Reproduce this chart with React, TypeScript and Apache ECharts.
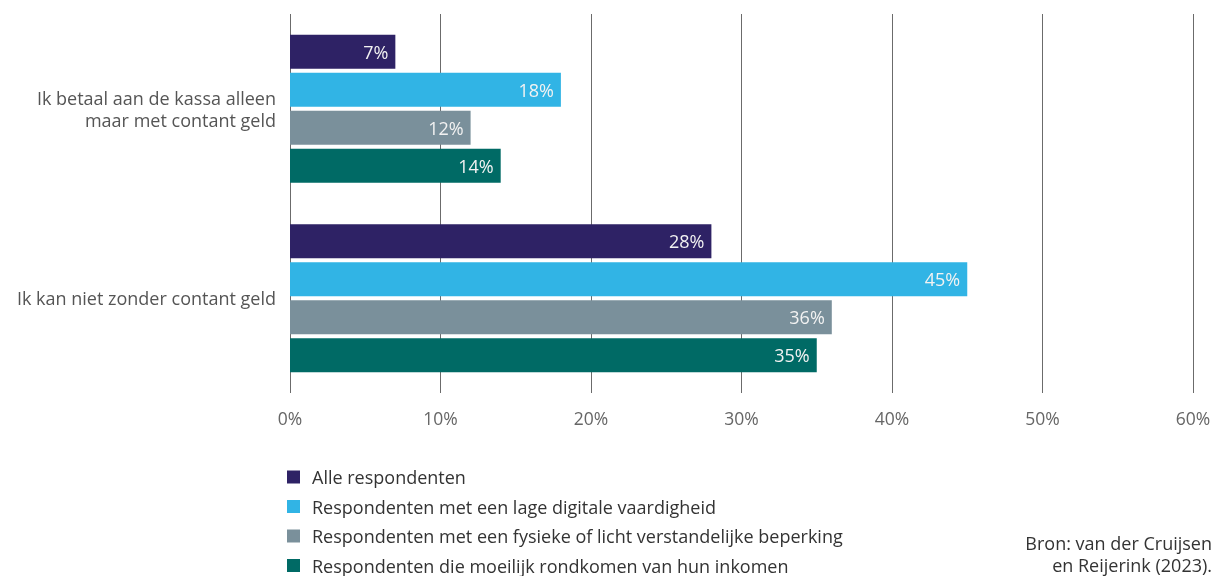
import React, { useEffect, useRef } from "react";
import * as echarts from "echarts";

const categories = [
  "Ik betaal aan de kassa alleen\nmaar met contant geld",
  "Ik kan niet zonder contant geld",
];
const seriesNames = [
  "Alle respondenten",
  "Respondenten met een lage digitale vaardigheid",
  "Respondenten met een fysieke of licht verstandelijke beperking",
  "Respondenten die moeilijk rondkomen van hun inkomen",
];
const seriesColors = ["#2e2265", "#31b4e5", "#7a909b", "#006a65"];
const alleValues = [7, 28];
const digitaalValues = [18, 45];
const beperkingValues = [12, 36];
const inkomenValues = [14, 35];
const xTicks = [0, 10, 20, 30, 40, 50, 60];
const sourceLines = ["Bron: van der Cruijsen", "en Reijerink (2023)."];

const FONT = "'Open Sans', 'Noto Sans', sans-serif";

export default function App() {
  const ref = useRef<HTMLDivElement>(null);
  useEffect(() => {
    if (!ref.current) return;
    const chart = echarts.init(ref.current, undefined, { renderer: "svg" });
    const values = [alleValues, digitaalValues, beperkingValues, inkomenValues];
    chart.setOption({
      animation: false,
      textStyle: { fontFamily: FONT },
      grid: { left: 290, right: 27, top: 14, height: 379, containLabel: false },
      xAxis: {
        type: "value",
        min: xTicks[0],
        max: xTicks[xTicks.length - 1],
        interval: 10,
        axisLine: { show: false },
        axisTick: { show: false },
        splitLine: { show: true, lineStyle: { color: "#6b6b6b", width: 1 } },
        axisLabel: {
          formatter: "{value}%",
          color: "#666",
          fontSize: 17.5,
          fontFamily: FONT,
          margin: 16,
        },
      },
      yAxis: {
        type: "category",
        data: categories,
        inverse: true,
        axisLine: { show: false },
        axisTick: { show: false },
        axisLabel: {
          color: "#555",
          fontSize: 18,
          lineHeight: 22,
          fontFamily: FONT,
          margin: 14,
          align: "right",
        },
      },
      legend: {
        orient: "vertical",
        left: 282,
        top: 463,
        height: 200,
        itemWidth: 13,
        itemHeight: 13,
        itemGap: 11.5,
        icon: "rect",
        data: seriesNames,
        textStyle: {
          color: "#333",
          fontSize: 18,
          lineHeight: 18,
          fontFamily: FONT,
          padding: [0, 0, 0, 7],
        },
      },
      graphic: sourceLines.map((line, i) => ({
        type: "text",
        right: 8,
        top: 534 + i * 22,
        style: {
          text: line,
          fill: "#333",
          fontSize: 18,
          lineHeight: 18,
          fontFamily: FONT,
          align: "right",
        },
      })),
      series: seriesNames.map((name, i) => ({
        name,
        type: "bar",
        data: values[i],
        barWidth: 34,
        barGap: "12%",
        itemStyle: { color: seriesColors[i] },
        label: {
          show: true,
          position: "insideRight",
          formatter: "{c}%",
          color: "#f2f2f2",
          fontSize: 18,
          fontFamily: FONT,
          distance: 7,
        },
      })),
    });
    return () => chart.dispose();
  }, []);
  return (
    <div
      ref={ref}
      style={{ position: "fixed", left: 0, top: 0, width: 1220, height: 576 }}
    />
  );
}
